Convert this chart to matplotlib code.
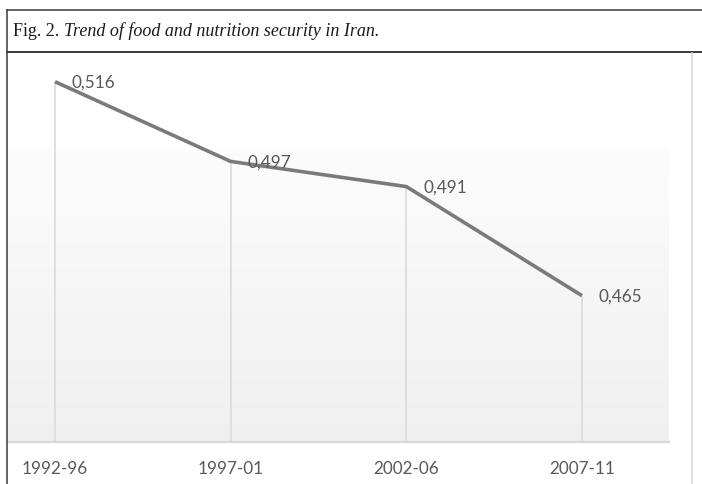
import numpy as np
import matplotlib
matplotlib.use("Agg")
import matplotlib.pyplot as plt
from matplotlib.lines import Line2D

# data
periods = ["1992-96", "1997-01", "2002-06", "2007-11"]
security = [0.516, 0.497, 0.491, 0.465]

W, H = 702, 485
fig = plt.figure(figsize=(W / 100, H / 100), dpi=100)


def px(x, y):
    return x / W, 1 - y / H


# plot area (pixel box: x 8..669, y 53..443)
ax = fig.add_axes([8 / W, (H - 443) / H, (669 - 8) / W, (443 - 53) / H])
ax.set_xlim(-0.2676, 3.495)
ax.set_ylim(0.43013, 0.52308)

# background gradient (white top, light gray near baseline)
rows = 390
grad = np.ones(rows)
start = 97
grad[start:] = np.linspace(0.985, 0.935, rows - start)
ax.imshow(grad[:, None], extent=[0, 1, 0, 1], transform=ax.transAxes,
          aspect="auto", cmap="gray", vmin=0, vmax=1, zorder=0)

x = np.arange(len(periods))
ax.vlines(x, ax.get_ylim()[0], security, color="#d9d9d9", lw=1.1, zorder=1)
ax.plot(x, security, color="#7a7a7a", lw=2.6, solid_capstyle="butt", zorder=3)

lab_font = ["Lato", "DejaVu Sans"]
for xi, v in zip(x, security):
    ax.annotate(f"{v:.3f}".replace(".", ","), (xi, v), xytext=(12, 0),
                textcoords="offset points", va="center", ha="left",
                fontsize=12.3, color="#595959", family=lab_font)

for s in ["top", "right", "left"]:
    ax.spines[s].set_visible(False)
ax.spines["bottom"].set_color("#d9d9d9")
ax.spines["bottom"].set_linewidth(1.7)
ax.set_yticks([])
ax.set_xticks(x)
ax.set_xticklabels(periods, fontsize=12.3, color="#595959", family=lab_font)
ax.tick_params(axis="x", length=0, pad=13)

# frame lines
def fline(x0, y0, x1, y1, **kw):
    a, b = px(x0, y0)
    c, d = px(x1, y1)
    fig.add_artist(Line2D([a, c], [b, d], transform=fig.transFigure, **kw))

fline(6.5, 10.5, 702, 10.5, color="#3a3a3a", lw=1.1)
fline(6.5, 10.5, 6.5, 485, color="#3a3a3a", lw=1.1)
fline(6.5, 52.5, 702, 52.5, color="#3a3a3a", lw=1.4)
fline(692, 53.5, 692, 485, color="#d9d9d9", lw=1.1)

# title: "Fig. 2." upright, the rest italic
tx, ty = px(13, 36)
t1 = fig.text(tx, ty, "Fig. 2. ", family="Liberation Serif", fontsize=13,
              color="#1a1a1a", va="baseline")
r = fig.canvas.get_renderer()
bb = t1.get_window_extent(r)
fig.text(bb.x1 / W, ty, "Trend of food and nutrition security in Iran.",
         family="Liberation Serif", style="italic", fontsize=13,
         color="#1a1a1a", va="baseline")

plt.savefig("out.png", dpi=100)
